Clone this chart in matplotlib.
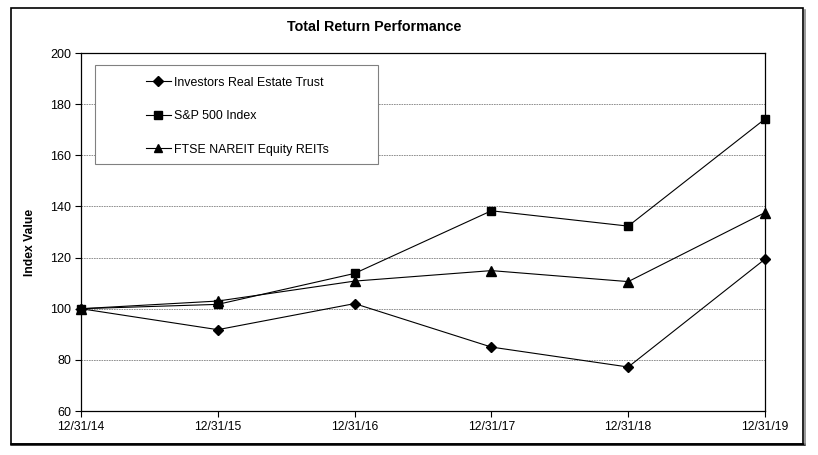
import matplotlib
matplotlib.use("Agg")
import matplotlib.pyplot as plt
from matplotlib.patches import Rectangle
from matplotlib.lines import Line2D

dates = ["12/31/14", "12/31/15", "12/31/16", "12/31/17", "12/31/18", "12/31/19"]
iret = [100.0, 91.8, 102.0, 85.0, 77.2, 119.4]
sp500 = [100.0, 101.7, 113.8, 138.3, 132.3, 174.2]
nareit = [100.0, 103.0, 110.8, 114.9, 110.6, 137.6]
series_names = ["Investors Real Estate Trust", "S&P 500 Index", "FTSE NAREIT Equity REITs"]
yticks = [60, 80, 100, 120, 140, 160, 180, 200]

plt.rcParams['font.family'] = ['Liberation Sans', 'DejaVu Sans']

W, H = 818, 455
fig = plt.figure(figsize=(W / 100, H / 100), dpi=100)

def fx(px):
    return px / W

def fy(py):
    return 1 - py / H

# outer border with shadow
fig.patches.append(Rectangle((fx(11), fy(444)), fx(803) - fx(11), fy(8) - fy(444),
                             transform=fig.transFigure, fill=False, edgecolor='black', lw=1.2))
fig.lines.append(Line2D([fx(11), fx(804)], [fy(444), fy(444)], transform=fig.transFigure,
                        color='black', lw=1.8))
fig.lines.append(Line2D([fx(804.5), fx(804.5)], [fy(444), fy(10)], transform=fig.transFigure,
                        color='#888888', lw=1.2))

ax = fig.add_axes([fx(81), fy(411), fx(765) - fx(81), fy(53) - fy(411)])
x = list(range(len(dates)))

ax.plot(x, iret, color='black', lw=0.8, marker='D', ms=5.5, clip_on=False, zorder=3, label=series_names[0])
ax.plot(x, sp500, color='black', lw=0.8, marker='s', ms=6, clip_on=False, zorder=3, label=series_names[1])
ax.plot(x, nareit, color='black', lw=0.8, marker='^', ms=6.5, clip_on=False, zorder=3, label=series_names[2])

ax.set_xlim(0, len(dates) - 1)
ax.set_ylim(60, 200)
ax.set_xticks(x)
ax.set_xticklabels(dates, fontsize=8.7)
ax.set_yticks(yticks)
ax.set_yticklabels([str(v) for v in yticks], fontsize=9)
ax.tick_params(direction='out', length=4, width=0.8, color='black', pad=3)
for s in ax.spines.values():
    s.set_linewidth(0.9)
    s.set_color('black')
ax.grid(axis='y', linestyle=(0, (2, 1)), color='#808080', lw=0.6)
ax.set_axisbelow(True)

ax.set_ylabel("Index Value", fontsize=8.7, fontweight='bold')
ax.yaxis.set_label_coords((36 - 81) / (765 - 81), 0.47)

fig.text(fx(374), fy(27), "Total Return Performance", ha='center', va='center',
         fontsize=10.3, fontweight='bold')

# legend frame
fig.patches.append(Rectangle((fx(95), fy(164)), fx(378) - fx(95), fy(65) - fy(164),
                             transform=fig.transFigure, fill=True, facecolor='white',
                             edgecolor='#808080', lw=0.8, zorder=4))
leg = fig.legend(loc='upper left', bbox_to_anchor=(fx(146), fy(76.5)), frameon=False,
                 fontsize=8.9, borderpad=0, borderaxespad=0, handlelength=2.0,
                 handletextpad=0.3, labelspacing=1.75, markerscale=0.9)
leg.set_zorder(5)

fig.savefig("out.png", dpi=100)
